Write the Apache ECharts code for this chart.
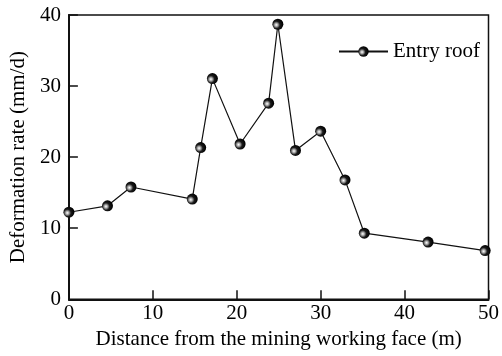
<!DOCTYPE html>
<html>
<head>
<meta charset="utf-8">
<script src="https://cdn.jsdelivr.net/npm/echarts@6/dist/echarts.min.js"></script>
<style>html,body{margin:0;padding:0;background:#fff}#c{width:502px;height:356px}</style>
</head>
<body>
<div id="c"></div>
<script>
const distances = [0, 4.6, 7.4, 14.7, 15.7, 17.1, 20.4, 23.8, 24.9, 27.0, 30.0, 32.9, 35.2, 42.8, 49.6];
const rates = [12.25, 13.15, 15.8, 14.1, 21.35, 31.05, 21.85, 27.6, 38.7, 20.95, 23.65, 16.8, 9.3, 8.05, 6.85];
const seriesName = 'Entry roof';
const xName = 'Distance from the mining working face (m)';
const yName = 'Deformation rate (mm/d)';

const FONT = '"Liberation Serif", "Times New Roman", serif';
const chart = echarts.init(document.getElementById('c'), null, {renderer: 'canvas'});
const ball = new echarts.graphic.RadialGradient(0.36, 0.56, 0.6, [
  {offset: 0, color: '#ffffff'},
  {offset: 0.25, color: '#aaaaaa'},
  {offset: 0.55, color: '#1a1a1a'},
  {offset: 1, color: '#000'}
]);
chart.setOption({
  animation: false,
  backgroundColor: '#fff',
  grid: {left: 68.5, right: 10.7, top: 15, bottom: 56.7, show: true, borderColor: '#111', borderWidth: 1.5},
  legend: {
    left: 333, top: 36, itemWidth: 49, itemHeight: 13, itemGap: 6,
    textStyle: {fontFamily: FONT, fontSize: 21, color: '#000'},
    data: [seriesName]
  },
  xAxis: {
    type: 'value', min: 0, max: 50, interval: 10,
    name: xName, nameLocation: 'middle', nameGap: 28,
    nameTextStyle: {fontFamily: FONT, fontSize: 21, color: '#000'},
    axisLine: {show: true, onZero: false, lineStyle: {color: '#111', width: 2}},
    axisTick: {show: true, inside: true, length: 9, lineStyle: {color: '#111', width: 1.5}},
    axisLabel: {fontFamily: FONT, fontSize: 21, color: '#000', margin: 4},
    splitLine: {show: false}
  },
  yAxis: {
    type: 'value', min: 0, max: 40, interval: 10,
    name: yName, nameLocation: 'middle', nameGap: 37,
    nameTextStyle: {fontFamily: FONT, fontSize: 21, color: '#000'},
    axisLine: {show: true, onZero: false, lineStyle: {color: '#111', width: 2}},
    axisTick: {show: true, inside: true, length: 9, lineStyle: {color: '#111', width: 1.5}},
    axisLabel: {fontFamily: FONT, fontSize: 21, color: '#000', margin: 8},
    splitLine: {show: false}
  },
  series: [{
    name: seriesName, type: 'line',
    data: distances.map((d, i) => [d, rates[i]]),
    symbol: 'circle', symbolSize: 11,
    lineStyle: {color: '#111', width: 1.2},
    itemStyle: {color: ball, borderWidth: 0},
    z: 3
  }]
});
</script>
</body>
</html>
